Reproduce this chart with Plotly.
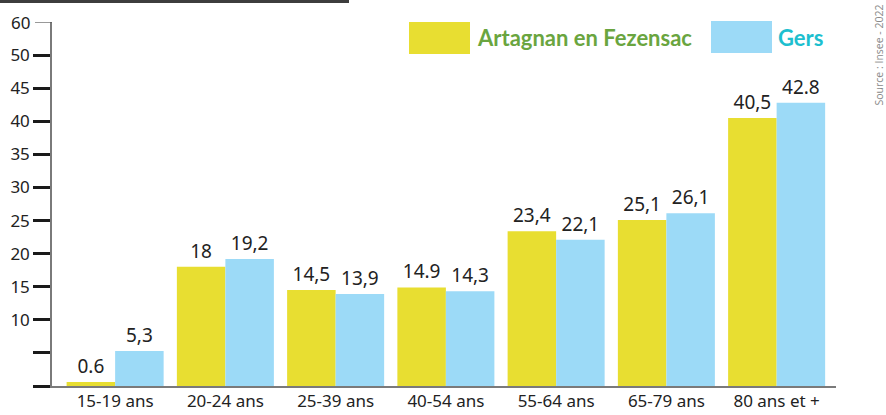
import plotly.graph_objects as go

categories = ["15-19 ans", "20-24 ans", "25-39 ans", "40-54 ans", "55-64 ans", "65-79 ans", "80 ans et +"]
artagnan = [0.6, 18, 14.5, 14.9, 23.4, 25.1, 40.5]
gers = [5.3, 19.2, 13.9, 14.3, 22.1, 26.1, 42.8]
artagnan_labels = ["0.6", "18", "14,5", "14.9", "23,4", "25,1", "40,5"]
gers_labels = ["5,3", "19,2", "13,9", "14,3", "22,1", "26,1", "42.8"]
ytick_vals = [0, 5, 10, 15, 20, 25, 30, 35, 40, 45, 50]
ytick_text = ["", "", "10", "15", "20", "25", "30", "35", "40", "45", "50"]
top_tick_val = 55
top_tick_text = "60"
series_names = ["Artagnan en Fezensac", "Gers"]

W, H = 886, 415
L, R, T, B = 52, 50, 22, 29
PW, PH = W - L - R, H - T - B

def px(x):
    return (x - L) / PW

def py(y):
    return (H - B - y) / PH

YELLOW = "#e8de31"
BLUE = "#9cdaf7"
TXT = "#222222"
FONT = "Noto Sans"

fig = go.Figure()
fig.add_trace(go.Bar(x=categories, y=artagnan, name=series_names[0], marker=dict(color=YELLOW, line=dict(width=0)),
                     text=artagnan_labels, textposition="outside", cliponaxis=False,
                     textfont=dict(family=FONT, size=19, color=TXT), showlegend=False))
fig.add_trace(go.Bar(x=categories, y=gers, name=series_names[1], marker=dict(color=BLUE, line=dict(width=0)),
                     text=gers_labels, textposition="outside", cliponaxis=False,
                     textfont=dict(family=FONT, size=19, color=TXT), showlegend=False))

pitch = 110.25
x0 = -0.5 - 8 / pitch
fig.update_layout(
    width=W, height=H, margin=dict(l=L, r=R, t=T, b=B, autoexpand=False),
    paper_bgcolor="white", plot_bgcolor="white",
    barmode="group", bargap=0.12, bargroupgap=0,
    font=dict(family=FONT, color=TXT),
    xaxis=dict(range=[x0, x0 + PW / pitch], showgrid=False, zeroline=False, automargin=False,
               showline=True, linecolor="#7a7a7a", linewidth=2, ticks="",
               tickfont=dict(family=FONT, size=17, color=TXT), ticklabelstandoff=-1),
    yaxis=dict(range=[0, 55], showgrid=False, zeroline=False, showline=True, automargin=False,
               linecolor="#7a7a7a", linewidth=1.5, tickvals=ytick_vals, ticktext=ytick_text,
               ticks="outside", ticklen=17, tickwidth=2.5, tickcolor="#1a1a1a",
               tickfont=dict(family=FONT, size=17, color=TXT)),
)

# top tick "60"
fig.add_shape(type="line", xref="paper", yref="y", x0=px(35), x1=px(52), y0=top_tick_val, y1=top_tick_val,
              line=dict(color="#555555", width=1.2))
fig.add_annotation(xref="paper", yref="y", x=px(32), y=top_tick_val, text=top_tick_text, showarrow=False,
                   xanchor="right", yanchor="middle", font=dict(family=FONT, size=17, color=TXT))

# dark band at top (cropped title bar)
fig.add_shape(type="rect", xref="paper", yref="paper", x0=px(0), x1=px(349), y0=py(3), y1=py(0),
              fillcolor="#3d3d3d", line=dict(width=0), layer="above")

# legend
fig.add_shape(type="rect", xref="paper", yref="paper", x0=px(409), x1=px(470), y0=py(54), y1=py(22),
              fillcolor=YELLOW, line=dict(width=0))
fig.add_annotation(xref="paper", yref="paper", x=px(475), y=py(38), text="<b>" + series_names[0] + "</b>",
                   showarrow=False, xanchor="left", yanchor="middle",
                   font=dict(family="Lato", size=22, color="#6aa53f"))
fig.add_shape(type="rect", xref="paper", yref="paper", x0=px(711), x1=px(772), y0=py(53), y1=py(21),
              fillcolor=BLUE, line=dict(width=0))
fig.add_annotation(xref="paper", yref="paper", x=px(776), y=py(38), text="<b>" + series_names[1] + "</b>",
                   showarrow=False, xanchor="left", yanchor="middle",
                   font=dict(family="Lato", size=22, color="#1ebfcf"))

# source
fig.add_annotation(xref="paper", yref="paper", x=px(878), y=py(108), text="Source : Insee - 2022",
                   textangle=-90, showarrow=False, xanchor="center", yanchor="bottom",
                   font=dict(family="Open Sans", size=10.5, color="#8a8a8a"))

fig.write_html("out.html", config={"displayModeBar": False},
               post_script="document.body.style.margin='0';")
